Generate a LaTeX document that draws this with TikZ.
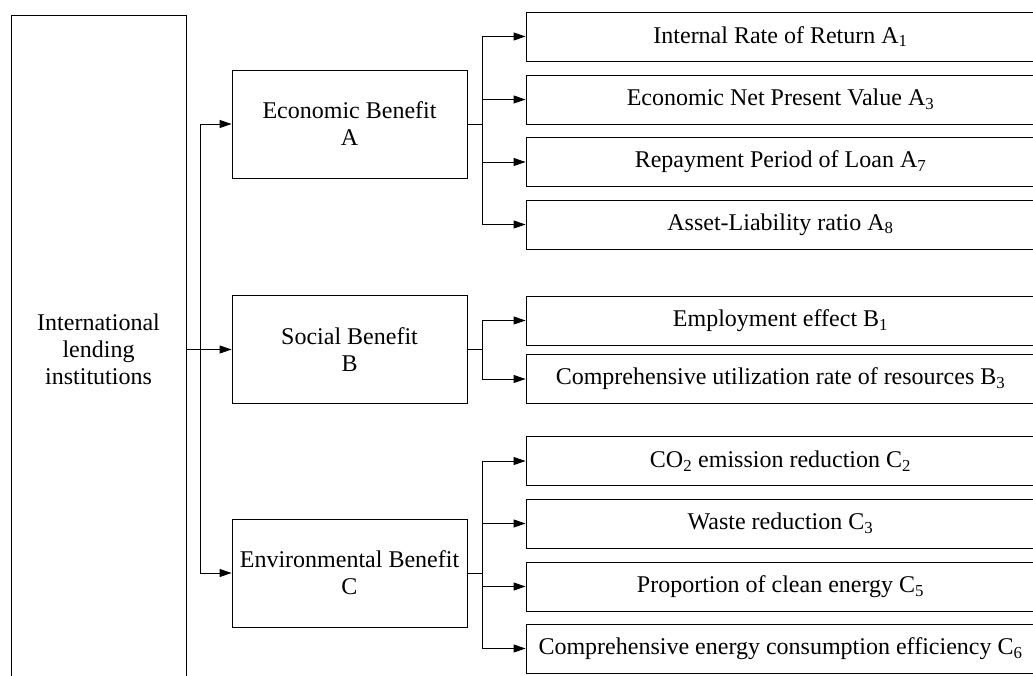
\documentclass[tikz,border=0pt]{standalone}
\usepackage{fontspec}
\setmainfont{Liberation Serif}
\usetikzlibrary{arrows.meta}

\tikzset{
  box/.style={draw,line width=0.9pt,inner sep=0pt,align=center,minimum width=235pt,minimum height=108pt},
  item/.style={draw,line width=0.9pt,inner sep=0pt,minimum width=509pt,minimum height=49pt},
  arr/.style={line width=0.9pt,-{Triangle[length=12pt,width=8pt]}},
  lin/.style={line width=0.9pt}
}

\begin{document}
\begin{tikzpicture}[x=1pt,y=-1pt,font=\rmfamily\fontsize{24}{27}\selectfont]
\useasboundingbox (0,0) rectangle (1033,675);

% left column
\node[draw,line width=0.9pt,minimum width=175pt,minimum height=668pt,inner sep=0pt,align=center] (inst) at (98.5,349.5) {International\\lending\\institutions};

% middle column
\node[box] (econ) at (349.5,124) {Economic Benefit\\A};
\node[box] (soc) at (349.5,349.5) {Social Benefit\\B};
\node[box] (env) at (349.5,573) {Environmental Benefit\\C};

% right column
\node[item] (a1) at (780.5,36.5) {Internal Rate of Return A\textsubscript{1}};
\node[item] (a3) at (780.5,99.5) {Economic Net Present Value A\textsubscript{3}};
\node[item] (a7) at (780.5,162) {Repayment Period of Loan A\textsubscript{7}};
\node[item] (a8) at (780.5,224.5) {Asset-Liability ratio A\textsubscript{8}};

\node[item] (b1) at (780.5,320.5) {Employment effect B\textsubscript{1}};
\node[item] (b3) at (780.5,379) {Comprehensive utilization rate of resources B\textsubscript{3}};

\node[item] (c2) at (780.5,461) {CO\textsubscript{2} emission reduction C\textsubscript{2}};
\node[item] (c3) at (780.5,523.5) {Waste reduction C\textsubscript{3}};
\node[item] (c5) at (780.5,586.5) {Proportion of clean energy C\textsubscript{5}};
\node[item] (c6) at (780.5,648.5) {Comprehensive energy consumption efficiency C\textsubscript{6}};

% trunk
\coordinate (trunk) at (200,349.5);
\draw[lin] (trunk |- econ) -- (trunk |- env);
\draw[arr] (inst.east) -- (soc.west);
\draw[arr] (trunk |- econ) -- (econ.west);
\draw[arr] (trunk |- env) -- (env.west);

% branches A
\coordinate (ja) at (482,124);
\draw[lin] (econ.east) -- (ja);
\draw[lin] (ja |- a1) -- (ja |- a8);
\draw[arr] (ja |- a1) -- (a1.west);
\draw[arr] (ja |- a3) -- (a3.west);
\draw[arr] (ja |- a7) -- (a7.west);
\draw[arr] (ja |- a8) -- (a8.west);

% branches B
\coordinate (jb) at (482,349.5);
\draw[lin] (soc.east) -- (jb);
\draw[lin] (jb |- b1) -- (jb |- b3);
\draw[arr] (jb |- b1) -- (b1.west);
\draw[arr] (jb |- b3) -- (b3.west);

% branches C
\coordinate (jc) at (482,573);
\draw[lin] (env.east) -- (jc);
\draw[lin] (jc |- c2) -- (jc |- c6);
\draw[arr] (jc |- c2) -- (c2.west);
\draw[arr] (jc |- c3) -- (c3.west);
\draw[arr] (jc |- c5) -- (c5.west);
\draw[arr] (jc |- c6) -- (c6.west);
\end{tikzpicture}
\end{document}
